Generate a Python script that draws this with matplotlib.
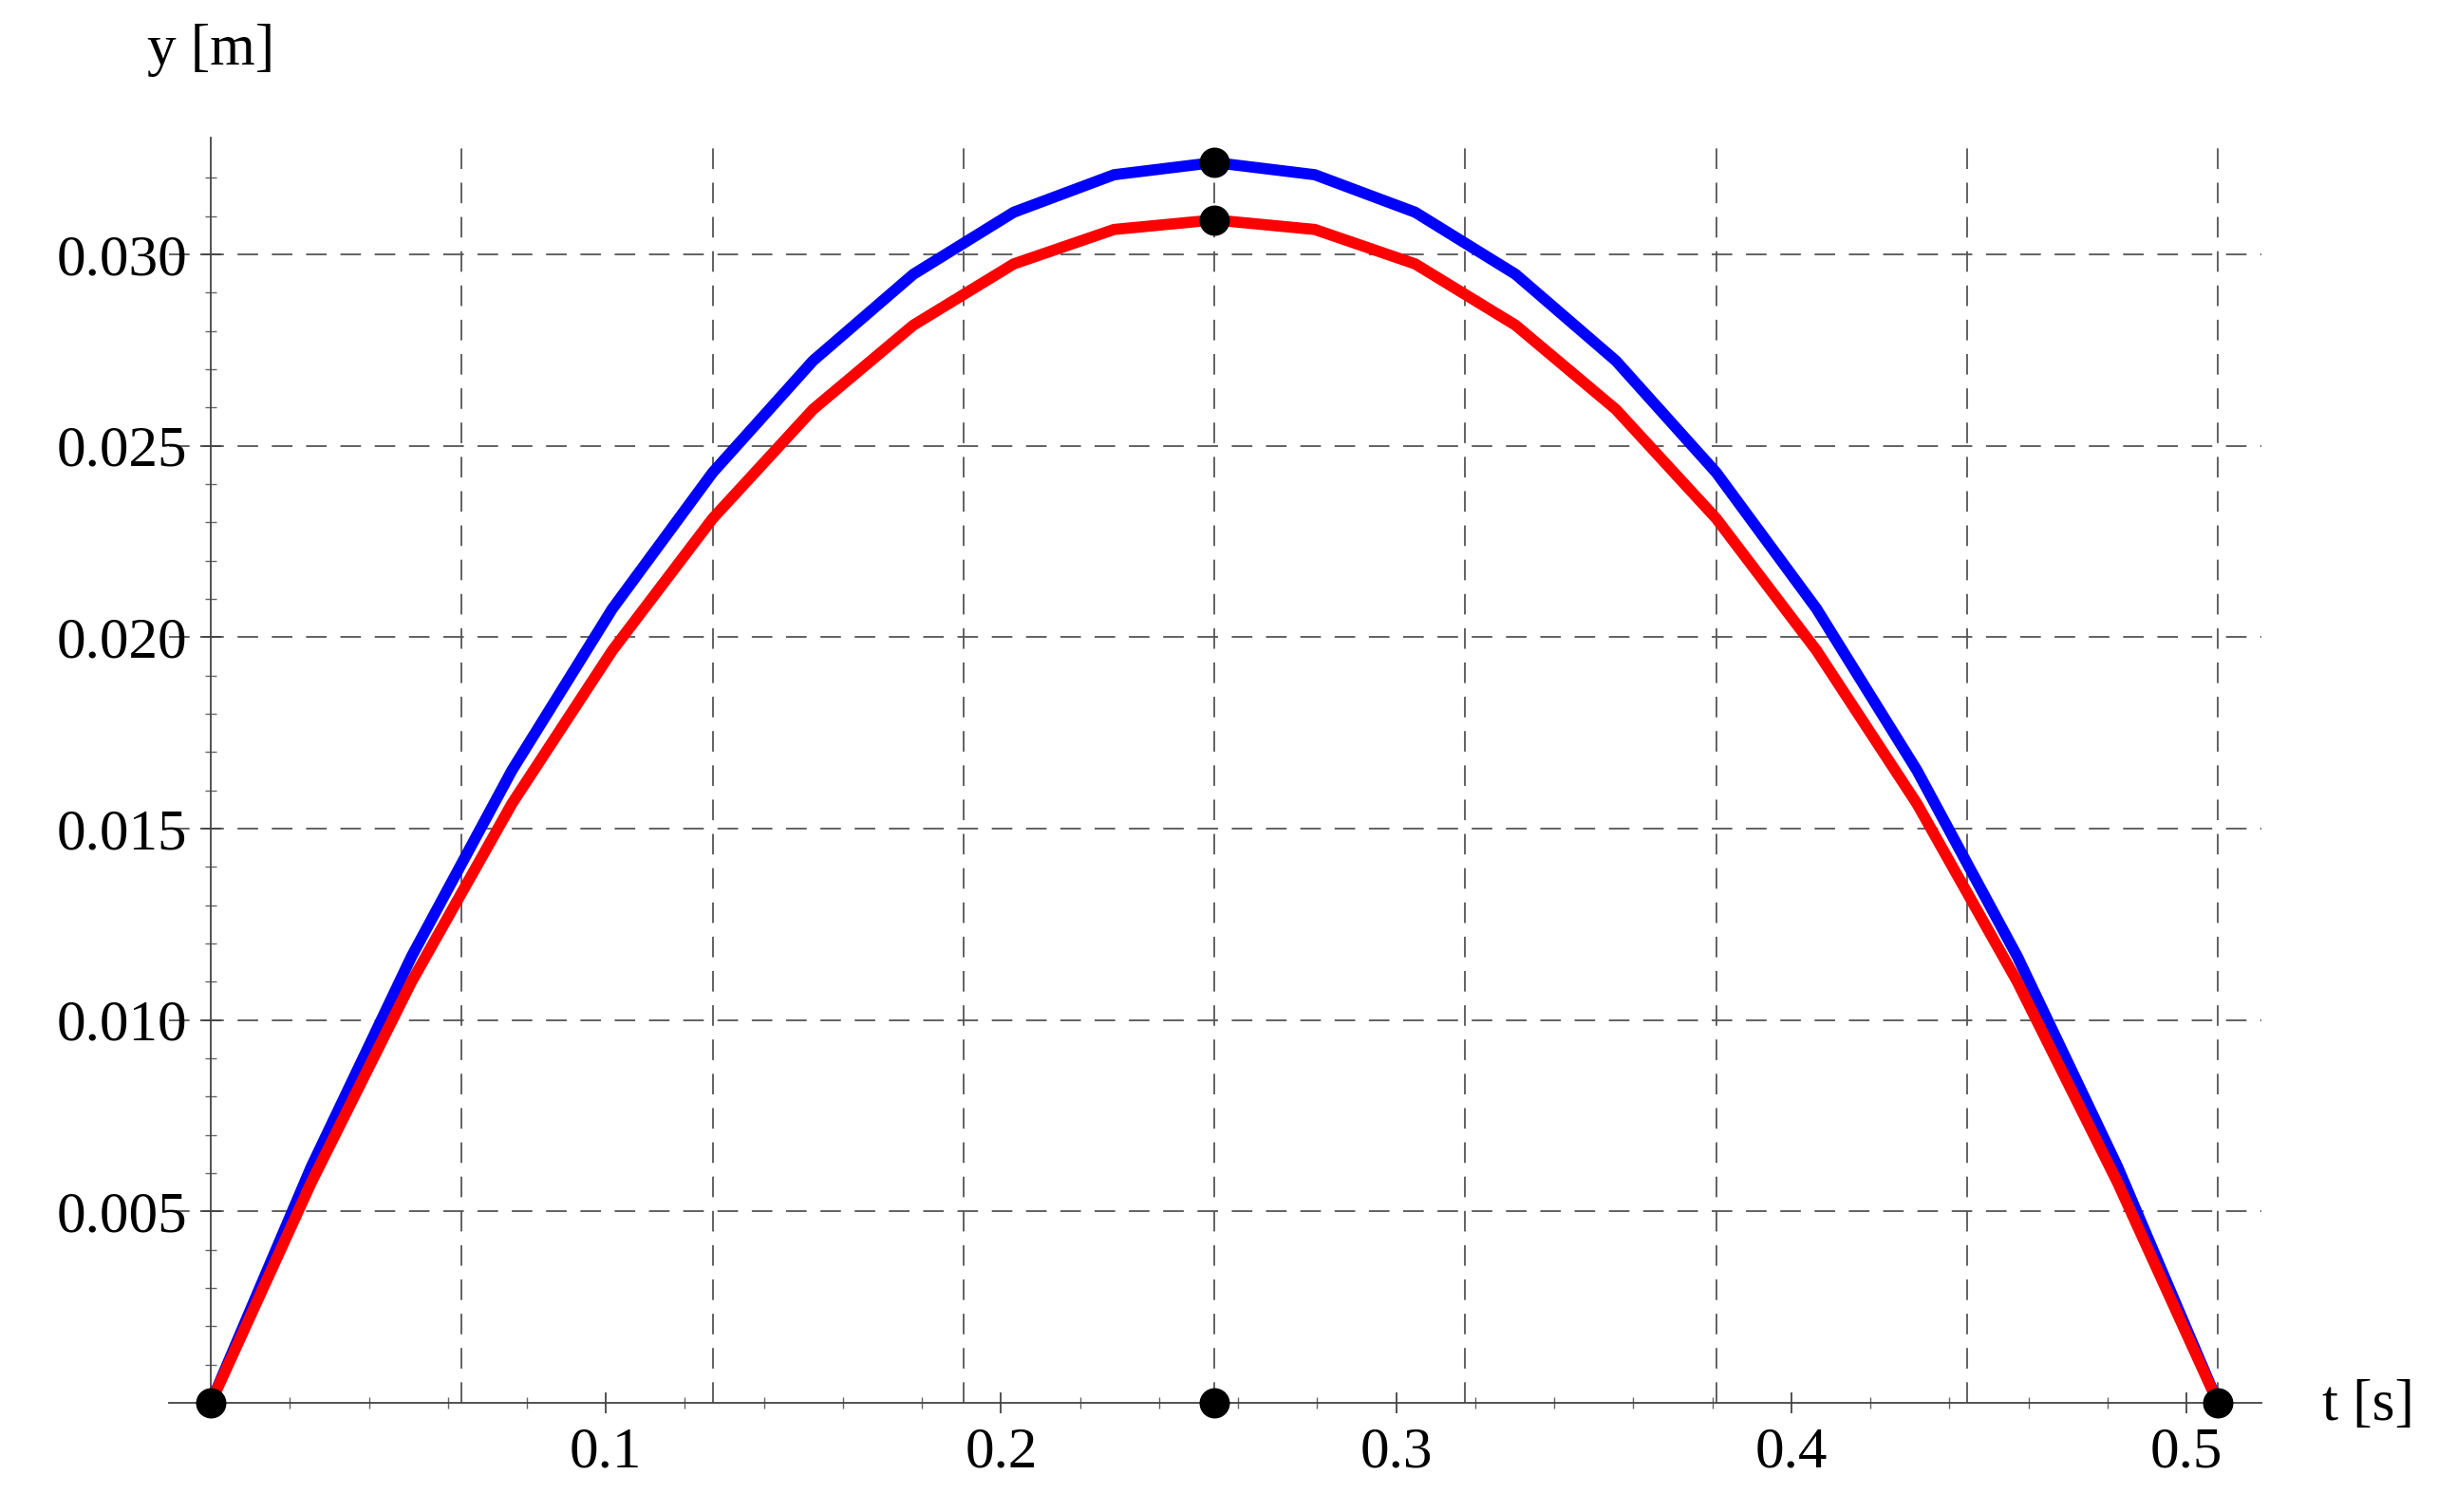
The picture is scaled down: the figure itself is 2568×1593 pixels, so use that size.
import matplotlib
matplotlib.use('Agg')
import matplotlib.pyplot as plt
import numpy as np

plt.rcParams['font.family'] = ['Liberation Serif', 'DejaVu Serif']

# flight time and sample times
T_END = 0.508
t = [0.0, 0.0254, 0.0508, 0.0762, 0.1016, 0.127, 0.1524, 0.1778, 0.2032, 0.2286, 0.254,
     0.2794, 0.3048, 0.3302, 0.3556, 0.381, 0.4064, 0.4318, 0.4572, 0.4826, 0.508]
y_blue = [0.0, 0.00616, 0.01166, 0.01652, 0.02074, 0.02430, 0.02722, 0.02948, 0.03110, 0.03208, 0.0324,
          0.03208, 0.03110, 0.02948, 0.02722, 0.02430, 0.02074, 0.01652, 0.01166, 0.00616, 0.0]
y_red = [0.0, 0.00575, 0.01100, 0.01565, 0.01965, 0.02310, 0.02595, 0.02815, 0.02975, 0.03065, 0.0309,
         0.03065, 0.02975, 0.02815, 0.02595, 0.02310, 0.01965, 0.01565, 0.01100, 0.00575, 0.0]
pts_t = [0.0, 0.254, 0.254, 0.254, 0.508]
pts_y = [0.0, 0.0, 0.0309, 0.0324, 0.0]

fig = plt.figure(figsize=(25.68, 15.93), dpi=100)
ax = fig.add_axes([0.0693, 0.0722, 0.8583, 0.8368])
ax.set_xlim(-0.0106, 0.519)
ax.set_ylim(0, 0.03305)

for k in range(1, 9):
    ax.axvline(k * T_END / 8, color='#555555', lw=1.3, dashes=(12, 8), zorder=1)
for v in np.arange(0.005, 0.031, 0.005):
    ax.axhline(v, color='#555555', lw=1.3, dashes=(12, 8), zorder=1)

ax.plot(t, y_blue, color='#0000ff', lw=8.5, solid_capstyle='butt', zorder=3)
ax.plot(t, y_red, color='#ff0000', lw=8.5, solid_capstyle='butt', zorder=4)
ax.plot(pts_t, pts_y, 'o', color='black', ms=22, clip_on=False, zorder=5)

ax.spines['left'].set_position(('data', 0))
ax.spines['top'].set_visible(False)
ax.spines['right'].set_visible(False)
for s in ['left', 'bottom']:
    ax.spines[s].set_color('#444444')
    ax.spines[s].set_linewidth(1.3)

ax.set_xticks([0.1, 0.2, 0.3, 0.4, 0.5])
ax.set_xticklabels(['0.1', '0.2', '0.3', '0.4', '0.5'])
ax.set_xticks(np.arange(0.02, 0.52, 0.02), minor=True)
ax.set_yticks([0.005, 0.010, 0.015, 0.020, 0.025, 0.030])
ax.set_yticklabels(['0.005', '0.010', '0.015', '0.020', '0.025', '0.030'])
ax.set_yticks(np.arange(0.001, 0.033, 0.001), minor=True)
ax.tick_params(which='major', direction='inout', length=16, width=1.3, color='#444444',
               labelsize=44, pad=10)
ax.tick_params(which='minor', direction='inout', length=9, width=1.0, color='#666666')

fig.text(222 / 2568, 1 - 53 / 1593, 'y [m]', fontsize=44, ha='center', va='center')
fig.text(2494 / 2568, 1 - 1481 / 1593, 't [s]', fontsize=44, ha='center', va='center')

fig.savefig('out.png', dpi=100)
